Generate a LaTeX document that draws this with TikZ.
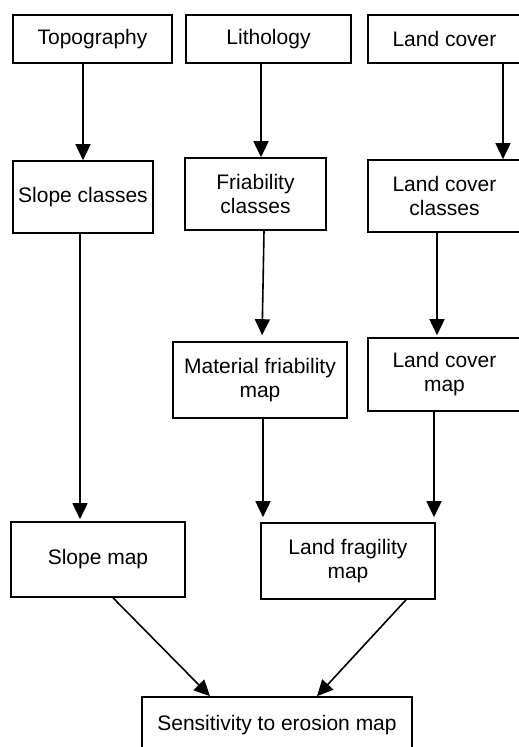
\documentclass[tikz,border=0pt]{standalone}
\usepackage{fontspec}
\setmainfont{Liberation Sans}
\usetikzlibrary{arrows.meta}
\begin{document}
\begin{tikzpicture}[x=1pt, y=-1pt,
  box/.style={draw, line width=1.6pt, align=center, inner sep=0pt, font=\fontsize{21}{24}\selectfont},
  arr/.style={line width=1.6pt, -{Triangle[length=16pt, width=15pt]}}]
\useasboundingbox (0,0) rectangle (519,747);
\node[box, minimum width=159pt, minimum height=48pt] (topo) at (92.5,39) {Topography};
\node[box, minimum width=165pt, minimum height=48pt] (litho) at (268.5,39) {Lithology};
\node[box, minimum width=153pt, minimum height=48pt] (lcover) at (444.5,39) {Land cover};
\node[box, minimum width=140pt, minimum height=72pt] (slopecl) at (83,197) {Slope classes};
\node[box, minimum width=141pt, minimum height=72pt] (frcl) at (255.5,194) {Friability\\classes};
\node[box, minimum width=153pt, minimum height=72pt] (lccl) at (444.5,196) {Land cover\\classes};
\node[box, minimum width=174pt, minimum height=76pt] (matmap) at (260,380) {Material friability\\map};
\node[box, minimum width=153pt, minimum height=73pt] (lcmap) at (444.5,374.5) {Land cover\\map};
\node[box, minimum width=174pt, minimum height=75pt] (slopemap) at (98,559.5) {Slope map};
\node[box, minimum width=174pt, minimum height=76pt] (fragmap) at (348,561) {Land fragility\\map};
\node[box, minimum width=270pt, minimum height=56pt] (sens) at (277,725) {Sensitivity to erosion map};
\draw[arr] (slopecl.north |- topo.south) -- (slopecl.north);
\draw[arr] ([xshift=-7.5pt]litho.south) -- ([xshift=5.5pt]frcl.north);
\draw[arr] ([xshift=58.5pt]lcover.south) -- ([xshift=58.5pt]lccl.north);
\draw[arr, shorten >=6pt] ([xshift=8.5pt]frcl.south) -- ([xshift=2pt]matmap.north);
\draw[arr, shorten >=2pt] ([xshift=-7.5pt]lccl.south) -- ([xshift=-7.5pt]lcmap.north);
\draw[arr, shorten >=2pt] ([xshift=-3pt]slopecl.south) -- ([xshift=-18pt]slopemap.north);
\draw[arr, shorten >=5pt] ([xshift=3pt]matmap.south) -- ([xshift=-85pt]fragmap.north);
\draw[arr, shorten >=5pt] ([xshift=-10.5pt]lcmap.south) -- ([xshift=86pt]fragmap.north);
\draw[arr] ([xshift=15pt]slopemap.south) -- ([xshift=-67pt]sens.north);
\draw[arr] ([xshift=58pt]fragmap.south) -- ([xshift=40pt]sens.north);
\end{tikzpicture}
\end{document}
